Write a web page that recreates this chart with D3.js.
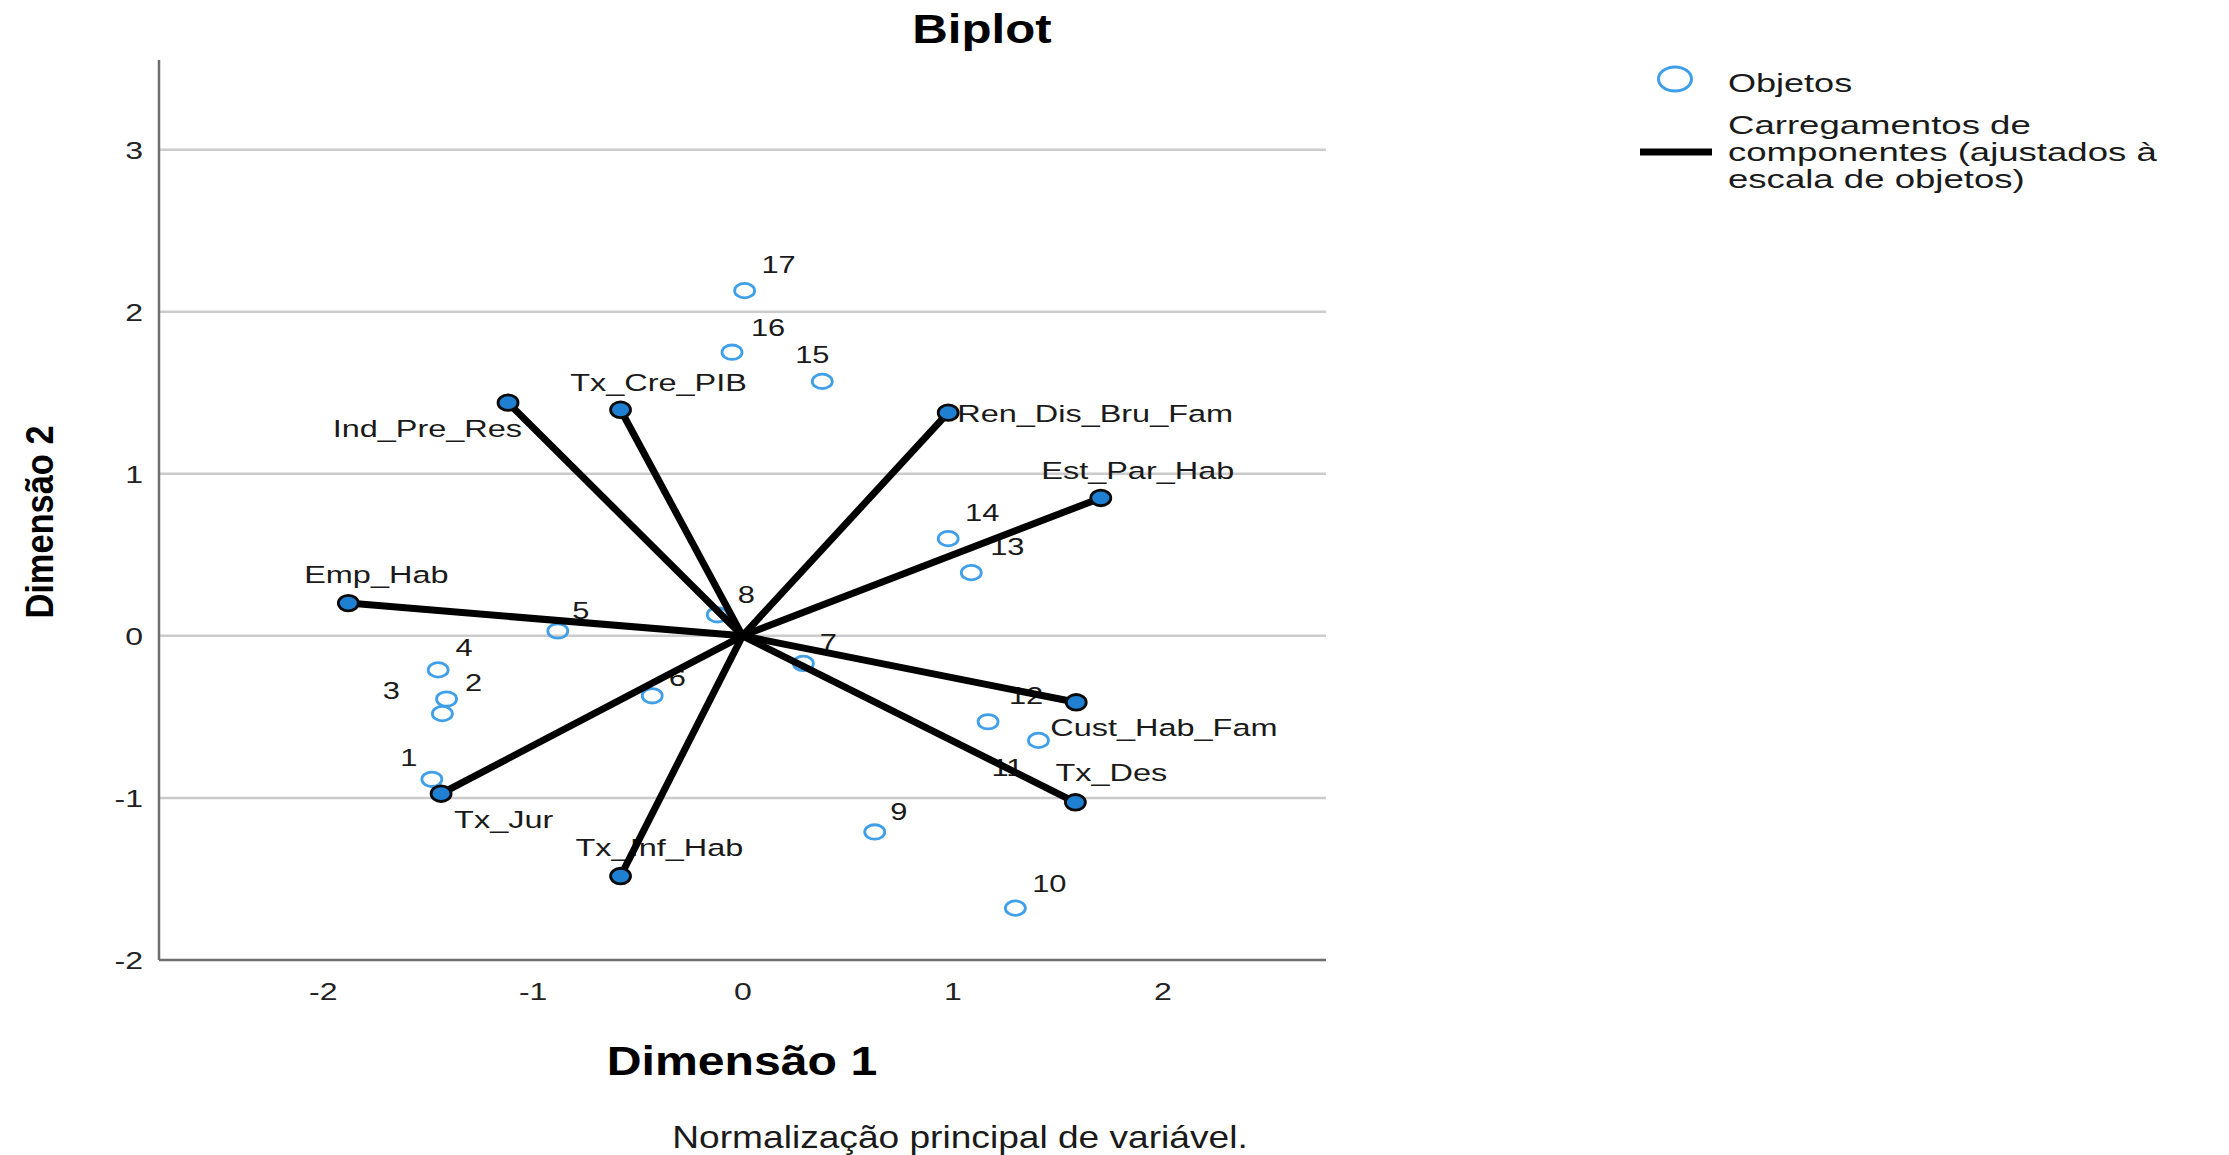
<!DOCTYPE html>
<html>
<head>
<meta charset="utf-8">
<script src="https://cdn.jsdelivr.net/npm/d3@7"></script>
<style>
  html, body { margin: 0; padding: 0; background: #fff; }
  svg text { font-family: "Liberation Sans", Arial, sans-serif; }
</style>
</head>
<body>
<div id="chart"></div>
<script>
// object scores (Dimensão 1, Dimensão 2)
const objectIds = ['1', '2', '3', '4', '5', '6', '7', '8', '9', '10', '11', '12', '13', '14', '15', '16', '17'];
const objectDim1 = [-1.48, -1.41, -1.43, -1.45, -0.88, -0.43, 0.29, -0.12, 0.63, 1.30, 1.41, 1.17, 1.09, 0.98, 0.38, -0.05, 0.01];
const objectDim2 = [-0.885, -0.39, -0.48, -0.21, 0.03, -0.37, -0.17, 0.13, -1.21, -1.68, -0.645, -0.53, 0.39, 0.60, 1.57, 1.75, 2.13];

// component loadings (scaled to objects)
const variableNames = ['Ind_Pre_Res', 'Tx_Cre_PIB', 'Ren_Dis_Bru_Fam', 'Est_Par_Hab', 'Emp_Hab', 'Cust_Hab_Fam', 'Tx_Des', 'Tx_Jur', 'Tx_Inf_Hab'];
const loadingDim1 = [-1.117, -0.581, 0.98, 1.707, -1.878, 1.59, 1.586, -1.436, -0.581];
const loadingDim2 = [1.439, 1.395, 1.377, 0.851, 0.202, -0.41, -1.027, -0.974, -1.482];

const xTicks = [-2, -1, 0, 1, 2];
const yTicks = [-2, -1, 0, 1, 2, 3];

const titleText = 'Biplot';
const xTitle = 'Dimensão 1';
const yTitle = 'Dimensão 2';
const footnote = 'Normalização principal de variável.';
const legendObjects = 'Objetos';
const legendLoadings = ['Carregamentos de', 'componentes (ajustados à', 'escala de objetos)'];

// label placement (pixels from the mark): anchor, dx, dy
const objectLabelPos = {
    '1': ['middle', -23, -21], '2': ['middle', 27, -16], '3': ['middle', -51, -23],
    '4': ['middle', 26, -22], '5': ['middle', 23, -20], '6': ['middle', 25, -18],
    '7': ['middle', 25, -21], '8': ['middle', 29, -20], '9': ['middle', 24, -20],
    '10': ['middle', 34, -24], '11': ['middle', -31, 27], '12': ['middle', 38, -26],
    '13': ['middle', 36, -26], '14': ['middle', 34, -26], '15': ['middle', -10, -27],
    '16': ['middle', 36, -24], '17': ['middle', 34, -26]
};
const variableLabelPos = {
    'Ind_Pre_Res': ['end', 14, 26], 'Tx_Cre_PIB': ['middle', 38, -27],
    'Ren_Dis_Bru_Fam': ['start', 9, 1], 'Est_Par_Hab': ['middle', 37, -27],
    'Emp_Hab': ['middle', 28, -28], 'Cust_Hab_Fam': ['start', -26, 25],
    'Tx_Des': ['start', -20, -30], 'Tx_Jur': ['start', 13, 26], 'Tx_Inf_Hab': ['start', -45, -28]
};

const width = 2229, height = 1155;
const plot = { left: 159, right: 1326, top: 60, bottom: 960 };

const svg = d3.select('#chart').append('svg')
    .attr('width', width)
    .attr('height', height);

const x = d3.scaleLinear().domain([-2.78, 2.78]).range([plot.left, plot.right]);
const y = d3.scaleLinear().domain([-2, 3.553]).range([plot.bottom, plot.top]);

// text helper: the reference glyphs are horizontally wide, so stretch them
function stretched(g, str, px, py, opts) {
    return g.append('text')
        .attr('transform', `translate(${px},${py}) scale(${opts.sx},1)` + (opts.rotate ? ` rotate(${opts.rotate})` : ''))
        .attr('text-anchor', opts.anchor || 'middle')
        .attr('dominant-baseline', opts.baseline || 'auto')
        .style('font-size', opts.size + 'px')
        .style('font-weight', opts.weight || 'normal')
        .attr('fill', opts.color || '#111')
        .text(str);
}

// gridlines
svg.append('g').selectAll('line')
    .data(yTicks.filter(d => d > -2))
    .join('line')
    .attr('x1', plot.left)
    .attr('x2', plot.right)
    .attr('y1', d => y(d))
    .attr('y2', d => y(d))
    .attr('stroke', '#cbcbcb')
    .attr('stroke-width', 2.5);

// axis lines
svg.append('line')
    .attr('x1', plot.left).attr('x2', plot.left)
    .attr('y1', plot.top).attr('y2', plot.bottom)
    .attr('stroke', '#6e6e6e').attr('stroke-width', 2.5);
svg.append('line')
    .attr('x1', plot.left).attr('x2', plot.right)
    .attr('y1', plot.bottom).attr('y2', plot.bottom)
    .attr('stroke', '#6e6e6e').attr('stroke-width', 2.5);

// tick labels (plain hyphen for negatives, like the reference)
const tickFmt = d => String(d);
const yAxis = svg.append('g')
    .attr('transform', 'translate(143,0)')
    .call(d3.axisLeft(y).tickValues(yTicks).tickSize(0).tickPadding(0).tickFormat(tickFmt));
yAxis.select('.domain').remove();
yAxis.selectAll('text')
    .attr('x', 0).attr('dy', '0.36em')
    .attr('transform', 'scale(1.35,1)')
    .style('font-size', '23.7px').attr('fill', '#222');

const xAxis = svg.append('g')
    .attr('transform', 'translate(0,991)')
    .call(d3.axisBottom(x).tickValues(xTicks).tickSize(0).tickPadding(0).tickFormat(tickFmt));
xAxis.select('.domain').remove();
xAxis.selectAll('text')
    .attr('y', 0).attr('dy', '0.36em')
    .attr('transform', 'scale(1.35,1)')
    .style('font-size', '23.7px').attr('fill', '#222');

const objects = objectIds.map((id, i) => ({ id, d1: objectDim1[i], d2: objectDim2[i] }));
const loadings = variableNames.map((name, i) => ({ name, d1: loadingDim1[i], d2: loadingDim2[i] }));

// object points
svg.append('g').selectAll('ellipse')
    .data(objects)
    .join('ellipse')
    .attr('cx', d => x(d.d1))
    .attr('cy', d => y(d.d2))
    .attr('rx', 10)
    .attr('ry', 7.2)
    .attr('fill', 'none')
    .attr('stroke', '#3f9fe8')
    .attr('stroke-width', 2.8);

// labels (drawn under the vectors, as in the reference)
const labels = svg.append('g');
objects.forEach(d => {
    const p = objectLabelPos[d.id];
    stretched(labels, d.id, x(d.d1) + p[1], y(d.d2) + p[2],
        { sx: 1.3, size: 23.7, anchor: p[0], baseline: 'central', color: '#1a1a1a' });
});
loadings.forEach(d => {
    const p = variableLabelPos[d.name];
    stretched(labels, d.name, x(d.d1) + p[1], y(d.d2) + p[2],
        { sx: 1.37, size: 23.7, anchor: p[0], baseline: 'central', color: '#1a1a1a' });
});

// loading vectors
svg.append('g').selectAll('line')
    .data(loadings)
    .join('line')
    .attr('x1', x(0))
    .attr('y1', y(0))
    .attr('x2', d => x(d.d1))
    .attr('y2', d => y(d.d2))
    .attr('stroke', '#000')
    .attr('stroke-width', 7);

svg.append('g').selectAll('ellipse')
    .data(loadings)
    .join('ellipse')
    .attr('cx', d => x(d.d1))
    .attr('cy', d => y(d.d2))
    .attr('rx', 10)
    .attr('ry', 7.8)
    .attr('fill', '#1f80d2')
    .attr('stroke', '#0a0a0a')
    .attr('stroke-width', 2.8);

// titles
stretched(svg, titleText, 982, 43, { sx: 1.2, size: 41, weight: 'bold', color: '#000' });
stretched(svg, xTitle, 742, 1075, { sx: 1.19, size: 40.5, weight: 'bold', color: '#000' });
stretched(svg, yTitle, 40, 522, { sx: 1.14, size: 34.4, weight: 'bold', rotate: -90, baseline: 'central', color: '#000' });
stretched(svg, footnote, 960, 1148, { sx: 1.16, size: 32, color: '#1a1a1a' });

// legend
const legend = svg.append('g');
legend.append('ellipse')
    .attr('cx', 1675).attr('cy', 79)
    .attr('rx', 16.5).attr('ry', 12)
    .attr('fill', 'none')
    .attr('stroke', '#3f9fe8')
    .attr('stroke-width', 3);
stretched(legend, legendObjects, 1728, 92, { sx: 1.36, size: 26.5, anchor: 'start', color: '#1a1a1a' });
legend.append('line')
    .attr('x1', 1640).attr('x2', 1712)
    .attr('y1', 152).attr('y2', 152)
    .attr('stroke', '#000')
    .attr('stroke-width', 7);
legendLoadings.forEach((t, i) => {
    stretched(legend, t, 1728, 134 + i * 27, { sx: 1.38, size: 26.5, anchor: 'start', color: '#1a1a1a' });
});
</script>
</body>
</html>
